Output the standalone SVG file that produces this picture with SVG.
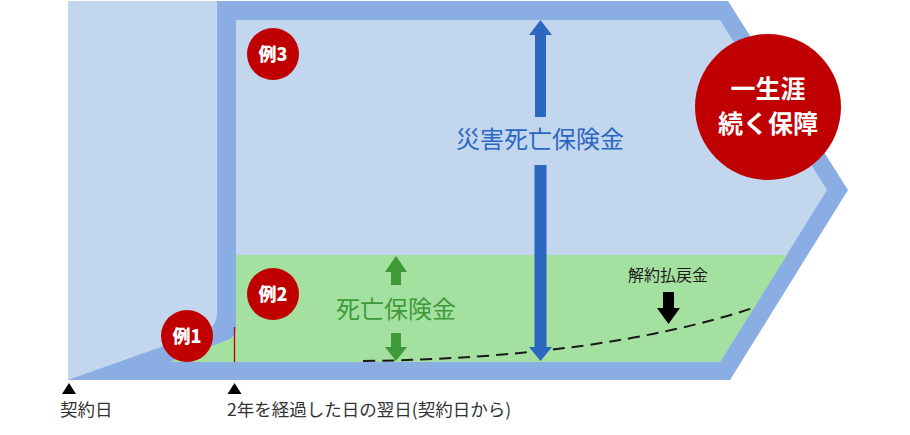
<svg xmlns="http://www.w3.org/2000/svg" width="910" height="435" viewBox="0 0 910 435">
  <style>
    .jp { font-family: "Noto Sans CJK JP", "Noto Sans", sans-serif; }
    .badge { fill: #c00000; }
    .badge-text { fill: #ffffff; font-weight: 900; font-size: 18px; text-anchor: middle; }
    .big-text { fill: #ffffff; font-weight: 700; font-size: 25px; text-anchor: middle; }
    .light { fill: #c2d6ee; }
    .frame { fill: #8aaee4; }
    .green { fill: #a4e0a0; }
    .axis-text { fill: #333333; font-size: 17.5px; }
  </style>
  <rect width="910" height="435" fill="#ffffff"/>

  <g id="frame">
    <rect class="light" x="68" y="1" width="150" height="379"/>
    <path class="frame" d="M68,380 L203,332 Q217,327 217,313 L217,1 L728,1 L848,190 L730,380 Z"/>
    <path class="light" d="M236,20 L720,20 L827,190 L720,362 L170,362 L228,340 Q236,337 236,329 Z"/>
    <path class="green" d="M236,255 L787,255 L720,362 L170,362 L228,340 Q236,337 236,329 Z"/>
    <line x1="234.5" y1="327" x2="234.5" y2="362" stroke="#c00000" stroke-width="1.3"/>
  </g>

  <g id="connectors">
    <!-- surrender value dashed curve -->
    <path d="M363,361 Q600,358 753,308" fill="none" stroke="#1a1a1a" stroke-width="2" stroke-dasharray="12,7"/>
    <!-- accidental death benefit arrow -->
    <path d="M540.5,20 L552,35 L546,35 L546,117 L535,117 L535,35 L529,35 Z" fill="#2b67c1"/>
    <path d="M540.5,361 L552,347 L546.5,347 L546.5,165 L534.5,165 L534.5,347 L529,347 Z" fill="#2b67c1"/>
    <!-- death benefit arrows -->
    <path d="M396,256 L407,272 L401,272 L401,285 L391,285 L391,272 L385,272 Z" fill="#3e9a38"/>
    <path d="M396,361 L407,347 L401,347 L401,333 L391,333 L391,347 L385,347 Z" fill="#3e9a38"/>
    <!-- surrender value arrow -->
    <path d="M668.5,324 L680,308 L674,308 L674,292 L663,292 L663,308 L657,308 Z" fill="#000000"/>
    <!-- timeline markers -->
    <path d="M69,383 L76,394 L62,394 Z" fill="#000000"/>
    <path d="M234.5,383 L241.5,394 L227.5,394 Z" fill="#000000"/>
  </g>

  <g id="label-accident">
    <text class="jp" x="540" y="148" font-size="24" fill="#2b67c1" text-anchor="middle">災害死亡保険金</text>
  </g>
  <g id="label-death">
    <text class="jp" x="396" y="318" font-size="24" fill="#3e9a38" text-anchor="middle">死亡保険金</text>
  </g>
  <g id="label-surrender">
    <text class="jp" x="668" y="281" font-size="16" fill="#1a1a1a" text-anchor="middle">解約払戻金</text>
  </g>

  <g id="ex3">
    <circle class="badge" cx="273" cy="54" r="26"/>
    <text class="jp badge-text" x="273" y="61">例3</text>
  </g>
  <g id="ex2">
    <circle class="badge" cx="273" cy="294" r="26"/>
    <text class="jp badge-text" x="273" y="301">例2</text>
  </g>
  <g id="ex1">
    <circle class="badge" cx="187" cy="336" r="26"/>
    <text class="jp badge-text" x="187" y="343">例1</text>
  </g>

  <g id="lifelong">
    <circle class="badge" cx="768" cy="107" r="73"/>
    <text class="jp big-text" x="768" y="98">一生涯</text>
    <text class="jp big-text" x="768" y="133">続く保障</text>
  </g>

  <g id="axis-labels">
    <text class="jp axis-text" x="60" y="416">契約日</text>
    <text class="jp axis-text" x="227" y="416">2年を経過した日の翌日(契約日から)</text>
  </g>
</svg>
